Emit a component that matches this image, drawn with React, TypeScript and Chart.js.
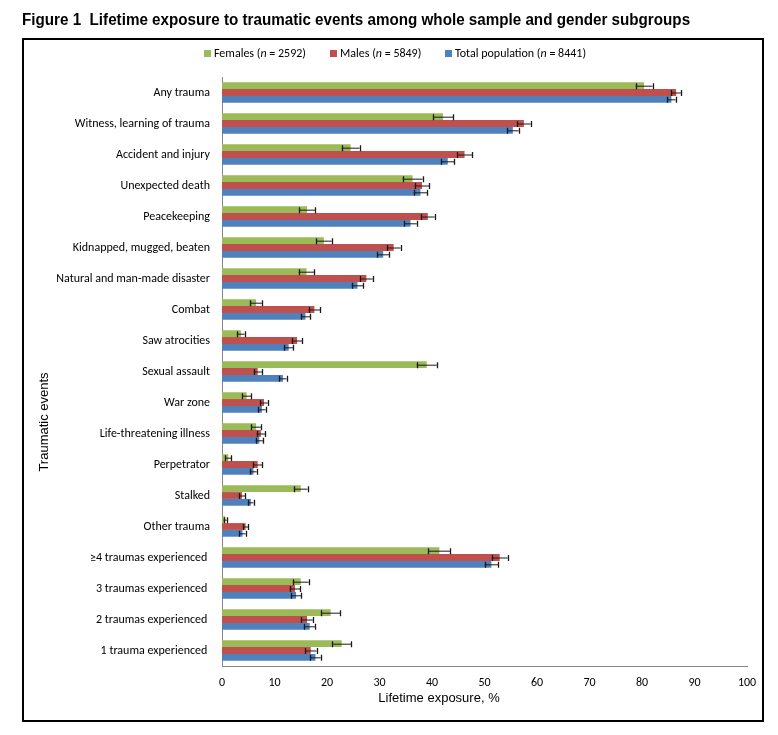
import React, { useEffect, useRef } from "react";
import { Chart, registerables } from "chart.js";

Chart.register(...registerables);

const categories = [
  "Any trauma",
  "Witness, learning of trauma",
  "Accident and injury",
  "Unexpected death",
  "Peacekeeping",
  "Kidnapped, mugged, beaten",
  "Natural and man-made disaster",
  "Combat",
  "Saw atrocities",
  "Sexual assault",
  "War zone",
  "Life-threatening illness",
  "Perpetrator",
  "Stalked",
  "Other trauma",
  "≥4 traumas experienced ",
  "3 traumas experienced ",
  "2 traumas experienced ",
  "1 trauma experienced ",
];

const females = [80.4, 42.1, 24.5, 36.3, 16.2, 19.4, 16.1, 6.5, 3.6, 39.0, 4.7, 6.5, 1.2, 15.0, 0.6, 41.4, 15.0, 20.7, 22.8];
const femalesErr = [1.6, 1.9, 1.7, 1.9, 1.5, 1.5, 1.5, 1.1, 0.7, 1.9, 0.9, 0.9, 0.6, 1.3, 0.3, 2.1, 1.5, 1.8, 1.8];
const males = [86.5, 57.5, 46.2, 38.1, 39.2, 32.7, 27.5, 17.6, 14.3, 6.8, 8.0, 7.4, 6.8, 3.8, 4.5, 52.9, 13.9, 16.2, 16.9];
const malesErr = [0.9, 1.3, 1.4, 1.4, 1.3, 1.3, 1.2, 1.1, 1.0, 0.8, 0.7, 0.8, 0.9, 0.6, 0.5, 1.5, 1.0, 1.1, 1.1];
const total = [85.6, 55.4, 43.0, 37.8, 35.9, 30.7, 25.8, 15.9, 12.7, 11.6, 7.6, 7.1, 6.0, 5.5, 3.9, 51.3, 14.1, 16.7, 17.8];
const totalErr = [0.8, 1.1, 1.2, 1.3, 1.2, 1.1, 1.1, 0.9, 0.9, 0.7, 0.7, 0.7, 0.6, 0.5, 0.6, 1.3, 1.0, 1.0, 1.0];

const seriesNames = ["Females", "Males", "Total population"];
const seriesN = ["2592", "5849", "8441"];
const seriesColors = ["#9BBB59", "#C0504D", "#4F81BD"];

const xTicksMin = 0;
const xTicksMax = 100;
const xTicksStep = 10;

const title = "Figure 1  Lifetime exposure to traumatic events among whole sample and gender subgroups";
const xTitle = "Lifetime exposure, %";
const yTitle = "Traumatic events";

const labelFont = "Carlito, Lato, 'Open Sans', sans-serif";

const errorBarPlugin = {
  id: "errorBars",
  afterDatasetsDraw(chart: any) {
    const ctx = chart.ctx;
    const xs = chart.scales.x;
    ctx.save();
    chart.data.datasets.forEach((ds: any, i: number) => {
      const meta = chart.getDatasetMeta(i);
      meta.data.forEach((bar: any, j: number) => {
        const v = ds.data[j];
        const e = ds.errors[j];
        const y = bar.y;
        const x1 = xs.getPixelForValue(v - e);
        const x2 = xs.getPixelForValue(v + e);
        ctx.strokeStyle = "#1a1a1a";
        ctx.lineWidth = 1;
        ctx.beginPath();
        ctx.moveTo(x1, y + 0.5);
        ctx.lineTo(x2, y + 0.5);
        ctx.stroke();
        ctx.lineWidth = 1.3;
        ctx.beginPath();
        ctx.moveTo(Math.round(x1) + 0.5, y - 2.5);
        ctx.lineTo(Math.round(x1) + 0.5, y + 3.5);
        ctx.moveTo(Math.round(x2) + 0.5, y - 2.5);
        ctx.lineTo(Math.round(x2) + 0.5, y + 3.5);
        ctx.stroke();
      });
    });
    ctx.restore();
  },
};

export default function App() {
  const ref = useRef<HTMLCanvasElement | null>(null);

  useEffect(() => {
    if (!ref.current) return;
    const values = [females, males, total];
    const errs = [femalesErr, malesErr, totalErr];
    const chart = new Chart(ref.current, {
      type: "bar",
      data: {
        labels: categories,
        datasets: seriesNames.map((name, i) => ({
          label: name,
          data: values[i],
          errors: errs[i],
          backgroundColor: seriesColors[i],
          borderWidth: 0,
          barPercentage: 1,
          categoryPercentage: 0.66,
        })) as any,
      },
      options: {
        indexAxis: "y",
        responsive: false,
        animation: false,
        devicePixelRatio: 1,
        layout: { padding: { left: 14, right: 23, top: 69, bottom: 0 } },
        plugins: {
          legend: { display: false },
          tooltip: { enabled: false },
          title: { display: false },
        },
        scales: {
          y: {
            type: "category",
            grid: { display: false, drawTicks: false },
            border: { display: true, color: "#868686", width: 1 },
            ticks: {
              color: "#000",
              padding: 12,
              font: { family: labelFont, size: 12 },
            },
            afterFit: (scale: any) => {
              scale.width = 200;
            },
          },
          x: {
            type: "linear",
            min: xTicksMin,
            max: xTicksMax,
            grid: { display: false, drawTicks: false },
            border: { display: true, color: "#868686", width: 1 },
            ticks: {
              stepSize: xTicksStep,
              color: "#000",
              padding: 10,
              font: { family: labelFont, size: 12 },
            },
            afterFit: (scale: any) => {
              scale.height = 61;
            },
          },
        },
      },
      plugins: [errorBarPlugin],
    } as any);
    return () => chart.destroy();
  }, []);

  const legendPos = [196, 322, 437];

  return (
    <div style={{ position: "relative", width: 762, height: 719 }}>
      <canvas
        ref={ref}
        width={762}
        height={719}
        style={{ position: "absolute", left: 0, top: 0, width: 762, height: 719 }}
      />
      <div
        style={{
          position: "absolute",
          left: 14,
          top: 2,
          lineHeight: "20px",
          fontFamily: "'Liberation Sans', Arial, sans-serif",
          fontWeight: "bold",
          fontSize: 16,
          whiteSpace: "pre",
          color: "#000",
          transform: "scaleX(0.95)",
          transformOrigin: "left center",
        }}
      >
        {title}
      </div>
      <div
        style={{
          position: "absolute",
          left: 14,
          top: 30,
          width: 742,
          height: 684,
          boxSizing: "border-box",
          border: "2px solid #000",
          pointerEvents: "none",
        }}
      />
      {seriesNames.map((name, i) => (
        <div
          key={name}
          style={{
            position: "absolute",
            left: legendPos[i],
            top: 37,
            height: 16,
            display: "flex",
            alignItems: "center",
            whiteSpace: "nowrap",
            fontFamily: labelFont,
            fontSize: 12,
            color: "#000",
          }}
        >
          <span
            style={{
              display: "inline-block",
              width: 7,
              height: 7,
              background: seriesColors[i],
              marginRight: 3,
            }}
          />
          <span>
            {name} (<i>n</i> = {seriesN[i]})
          </span>
        </div>
      ))}
      <div
        style={{
          position: "absolute",
          left: 431,
          top: 689,
          transform: "translate(-50%, -50%)",
          fontFamily: "'Liberation Sans', Arial, sans-serif",
          fontSize: 13,
          whiteSpace: "nowrap",
          color: "#000",
        }}
      >
        {xTitle}
      </div>
      <div
        style={{
          position: "absolute",
          left: 35,
          top: 414,
          transform: "translate(-50%, -50%) rotate(-90deg)",
          fontFamily: "'Liberation Sans', Arial, sans-serif",
          fontSize: 13,
          whiteSpace: "nowrap",
          color: "#000",
        }}
      >
        {yTitle}
      </div>
    </div>
  );
}
